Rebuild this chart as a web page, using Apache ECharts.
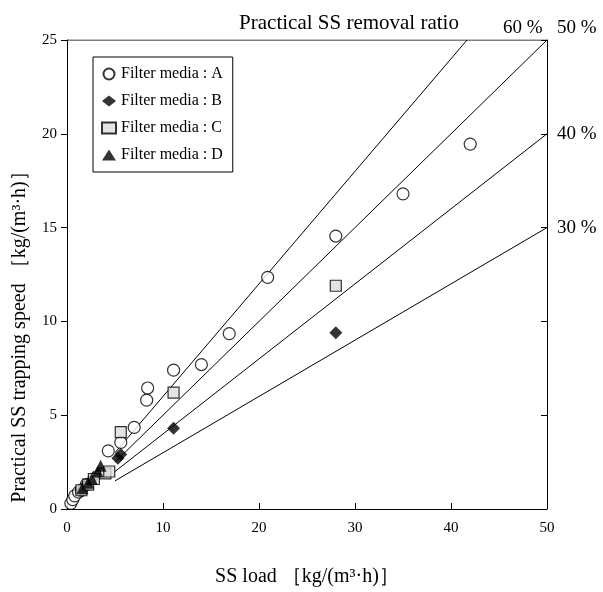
<!DOCTYPE html>
<html><head><meta charset="utf-8">
<script src="https://cdn.jsdelivr.net/npm/echarts@6/dist/echarts.min.js"></script>
<style>html,body{margin:0;padding:0;background:#fff;overflow:hidden}#c{width:603px;height:592px}</style>
</head><body><div id="c"></div>
<script>
const xTicks = [0, 10, 20, 30, 40, 50];
const yTicks = [0, 5, 10, 15, 20, 25];
const mediaA = [[0.4,0.3],[0.6,0.5],[0.8,0.7],[1.2,0.9],[1.5,1.0],[2.0,1.3],[4.3,3.1],[5.6,3.55],[7.0,4.35],[8.3,5.8],[8.4,6.45],[11.1,7.4],[14.0,7.7],[16.9,9.35],[20.9,12.35],[28.0,14.55],[35.0,16.8],[42.0,19.45]];
const mediaB = [[1.5,1.0],[2.0,1.3],[2.8,1.7],[5.3,2.7],[5.6,2.9],[11.1,4.3],[28.0,9.4]];
const mediaC = [[1.5,1.0],[2.2,1.3],[2.8,1.6],[4.0,1.9],[4.4,2.0],[5.6,4.1],[11.1,6.2],[28.0,11.9]];
const mediaD = [[1.6,1.1],[2.2,1.4],[2.6,1.6],[3.2,2.0],[3.5,2.3]];
const ratios = [0.6, 0.5, 0.4, 0.3];
const ratioLabels = ['60 %', '50 %', '40 %', '30 %'];
const lineStartX = 5;

const F = 'Liberation Serif, Times New Roman, serif';
const chart = echarts.init(document.getElementById('c'));

const lineSeries = ratios.map((r, i) => {
  const endX = Math.min(50, 25 / r);
  return {
    type: 'line', silent: true, symbol: 'none', z: 1,
    lineStyle: { color: '#000', width: 1 },
    data: [[lineStartX, lineStartX * r], [endX, endX * r]],
    endLabel: {
      show: true, formatter: ratioLabels[i], color: '#000', fontFamily: F, fontSize: 19,
      offset: i === 0 ? [28, -12] : (i === 1 ? [2, -12] : [2, 0])
    }
  };
});

const sc = (name, data, symbol, size, style) => ({
  name, type: 'scatter', data, symbol, symbolSize: size, z: 3,
  itemStyle: style
});

chart.setOption({
  animation: false,
  backgroundColor: '#fff',
  textStyle: { fontFamily: F },
  title: { text: 'Practical SS removal ratio', left: 344, top: 8, textAlign: 'center',
    textStyle: { fontFamily: F, fontSize: 21, fontWeight: 'normal', color: '#000' } },
  graphic: [{
    type: 'text', x: 20, y: 332, rotation: Math.PI / 2,
    style: { text: 'Practical SS trapping speed ［kg/(m³·h)］', fill: '#000', font: '20px ' + F,
      textAlign: 'center', textVerticalAlign: 'middle' }
  }],
  grid: { left: 67, right: 56, top: 40, bottom: 74 },
  legend: {
    orient: 'vertical', left: 93, top: 57, itemGap: 11, padding: [9, 10, 9, 8],
    borderColor: '#000', borderWidth: 1, itemWidth: 14, itemHeight: 11,
    textStyle: { fontFamily: F, fontSize: 16, color: '#000' },
    data: [
      { name: 'Filter media : A', icon: 'circle' },
      { name: 'Filter media : B', icon: 'diamond' },
      { name: 'Filter media : C', icon: 'rect' },
      { name: 'Filter media : D', icon: 'triangle' }
    ]
  },
  xAxis: {
    type: 'value', min: xTicks[0], max: xTicks[xTicks.length - 1], interval: 10,
    name: 'SS load ［kg/(m³·h)］', nameLocation: 'middle', nameGap: 58,
    nameTextStyle: { fontFamily: F, fontSize: 20, color: '#000' },
    axisLine: { lineStyle: { color: '#000', width: 1 } },
    axisTick: { inside: true, length: 6, lineStyle: { color: '#000' } },
    axisLabel: { fontFamily: F, fontSize: 15, color: '#000', margin: 12 },
    splitLine: { show: false }
  },
  yAxis: [{
    type: 'value', min: yTicks[0], max: yTicks[yTicks.length - 1], interval: 5,
    axisLine: { show: true, lineStyle: { color: '#000', width: 1 } },
    axisTick: { show: true, inside: false, length: 6, lineStyle: { color: '#000' } },
    axisLabel: { fontFamily: F, fontSize: 15, color: '#000', margin: 10 },
    splitLine: { show: false }
  }, {
    type: 'value', position: 'right', min: yTicks[0], max: yTicks[yTicks.length - 1], interval: 5,
    axisLine: { show: true, lineStyle: { color: '#000', width: 1 } },
    axisTick: { show: true, inside: true, length: 6, lineStyle: { color: '#000' } },
    axisLabel: { show: false }, splitLine: { show: false }
  }],
  series: [
    ...lineSeries,
    sc('Filter media : A', mediaA, 'circle', 12, { color: '#fff', borderColor: '#000', borderWidth: 1.2 }),
    sc('Filter media : B', mediaB, 'diamond', 13, { color: '#000' }),
    sc('Filter media : C', mediaC, 'rect', 11, { color: '#ddd', borderColor: '#000', borderWidth: 1.2 }),
    sc('Filter media : D', mediaD, 'triangle', 12, { color: '#000' }),
    { type: 'line', xAxisIndex: 0, data: [[0, 25], [50, 25]], symbol: 'none', silent: true,
      lineStyle: { color: '#000', width: 1 }, z: 0 }
  ]
});
</script></body></html>
